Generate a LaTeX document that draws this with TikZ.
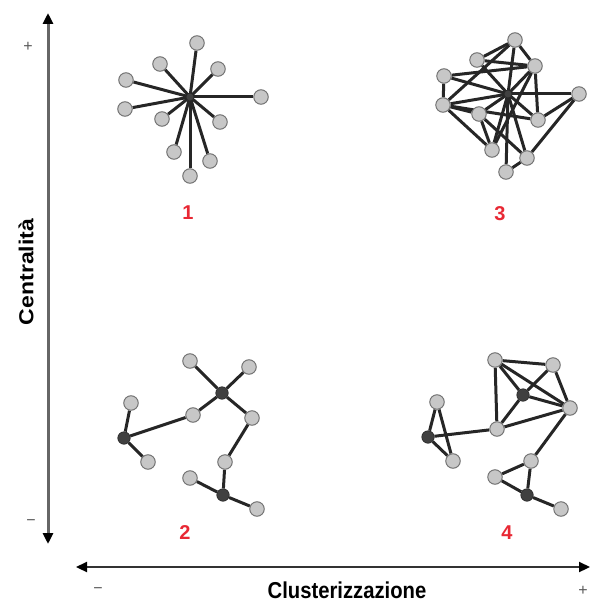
\documentclass[tikz,border=0pt]{standalone}
\usepackage{fontspec}
\setmainfont{Liberation Sans}
\usetikzlibrary{arrows.meta,backgrounds}
\definecolor{lblred}{RGB}{232,40,52}
\tikzset{
  nd/.style={circle, draw=black!55, fill=black!22, line width=1pt, minimum size=14.5pt, inner sep=0pt},
  hub/.style={circle, draw=black!85, fill=black!75, line width=0.6pt, minimum size=12.5pt, inner sep=0pt},
  hubs/.style={circle, draw=black!85, fill=black!75, line width=0.6pt, minimum size=8pt, inner sep=0pt},
  edge/.style={line width=3pt, draw=black!85},
  num/.style={text=lblred, font=\bfseries\fontsize{20}{20}\selectfont, inner sep=0pt},
  axlbl/.style={font=\bfseries\fontsize{23}{23}\selectfont, inner sep=0pt, xscale=0.88},
  sgn/.style={text=black!65, font=\fontsize{16}{16}\selectfont, inner sep=0pt},
}
\begin{document}
\begin{tikzpicture}[x=1pt,y=-1pt]
\path[use as bounding box] (0,0) rectangle (590,604);

% ---------- axes ----------
\coordinate (ytop) at (48,13);
\coordinate (ybot) at (48,544);
\coordinate (xl) at (76,567);
\coordinate (xr) at (590,567);
\draw[line width=3pt, black!60, {Triangle[length=11pt,width=10pt,color=black]}-{Triangle[length=11pt,width=10pt,color=black]}] (ybot) -- (ytop);
\draw[line width=2.2pt, black!80, {Triangle[length=11pt,width=10pt,color=black]}-{Triangle[length=11pt,width=10pt,color=black]}] (xl) -- (xr);
\node[sgn] (yplus) at (28,47) {+};
\node[sgn] (yminus) at (31,523) {\textminus};
\node[sgn] (xminus) at (98,591) {\textminus};
\node[sgn] (xplus) at (583,591) {+};
\node[axlbl, rotate=90] (ylab) at (26,272) {Centralità};
\node[axlbl, anchor=base] (xlab) at (347,598) {Clusterizzazione};

% ---------- numbers ----------
\node[num] (n1) at (188,213) {1};
\node[num] (n3) at (500,214) {3};
\node[num] (n2) at (185,533) {2};
\node[num] (n4) at (507,533) {4};

% ---------- graph 1 (star) ----------
\node[hubs] (g1c) at (190,97) {};
\foreach \n/\x/\y in {a/197/43, b/160/64, d/218/69, e/126/80, f/261/97, g/125/109, h/162/119, i/220/122, j/174/152, k/210/161, l/190/176}{
  \node[nd] (g1\n) at (\x,\y) {};
}
\begin{scope}[on background layer]
\foreach \n in {a,b,d,e,f,g,h,i,j,k,l}{
  \draw[edge] (g1c.center) -- (g1\n);
}
\end{scope}

% ---------- graph 3 (dense) ----------
\node[hubs] (Z) at (508,94) {};
\foreach \n/\x/\y in {A/515/40, B/477/60, C/535/66, D/444/76, E/579/94, F/443/105, G/479/114, H/538/120, I/492/150, J/527/158, K/506/172}{
  \node[nd] (\n) at (\x,\y) {};
}
\begin{scope}[on background layer]
\foreach \n in {A,B,C,D,E,F,G,H,I,J,K}{
  \draw[edge] (Z.center) -- (\n);
}
\foreach \p/\q in {A/B, A/F, B/C, D/C, D/F, F/G, F/I, G/I, G/J, C/H, C/I, E/H, E/J, J/K, A/C, F/H}{
  \draw[edge] (\p) -- (\q);
}
\end{scope}

% ---------- graph 2 (chain of stars) ----------
\node[hub] (h1) at (222,393) {};
\node[hub] (h2) at (124,438) {};
\node[hub] (h3) at (223,495) {};
\foreach \n/\x/\y in {a/190/361, b/249/367, c/131/403, d/193/415, e/252/418, f/148/462, g/225/462, h/190/478, i/257/509}{
  \node[nd] (g2\n) at (\x,\y) {};
}
\begin{scope}[on background layer]
\foreach \p/\q in {g2a/h1, g2b/h1, h1/g2d, h1/g2e, g2d/h2, g2c/h2, h2/g2f, g2e/g2g, g2g/h3, g2h/h3, h3/g2i}{
  \draw[edge] (\p) -- (\q);
}
\end{scope}

% ---------- graph 4 (clusters) ----------
\node[hub] (hA) at (523,395) {};
\node[hub] (hB) at (428,437) {};
\node[hub] (hC) at (527,495) {};
\foreach \n/\x/\y in {p/495/360, q/553/365, r/437/402, s/570/408, t/497/429, u/453/461, v/531/461, w/495/477, x/561/509}{
  \node[nd] (g4\n) at (\x,\y) {};
}
\begin{scope}[on background layer]
\foreach \p/\q in {g4p/g4q, g4p/hA, g4p/g4t, g4p/g4s, g4q/hA, g4q/g4s, hA/g4s, hA/g4t, g4t/g4s, g4t/hB, g4r/hB, g4r/g4u, hB/g4u, g4s/g4v, g4v/g4w, g4v/hC, g4w/hC, hC/g4x}{
  \draw[edge] (\p) -- (\q);
}
\end{scope}
\end{tikzpicture}
\end{document}
